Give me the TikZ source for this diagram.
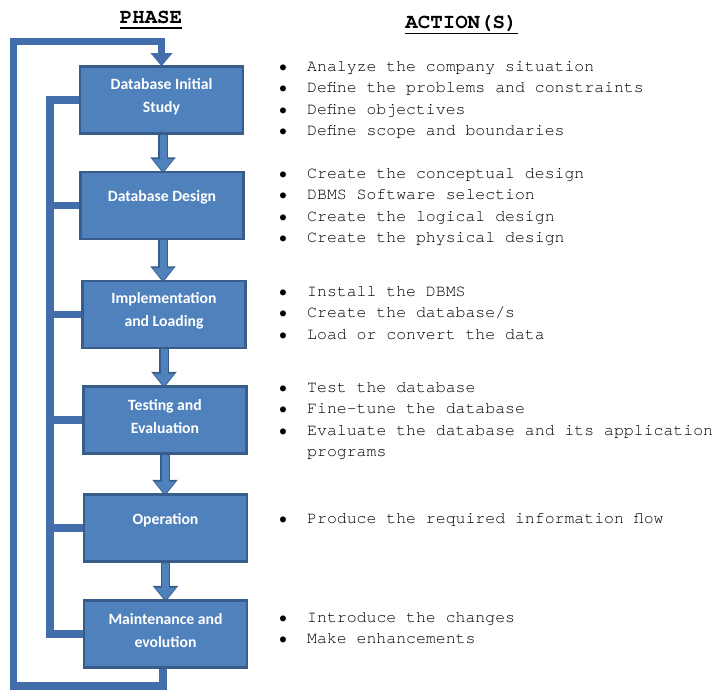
\documentclass[tikz,border=0pt]{standalone}
\usepackage{fontspec}
\setmainfont{Carlito}
\setmonofont{TeX Gyre Cursor}
\usetikzlibrary{arrows.meta}

\definecolor{boxfill}{RGB}{79,129,189}
\definecolor{boxedge}{RGB}{56,93,138}
\definecolor{linkblue}{RGB}{66,111,172}

\begin{document}
\begin{tikzpicture}[x=1pt,y=-1pt,
  phase/.style={rectangle, fill=boxfill, draw=boxedge, line width=1.6pt,
    minimum width=162pt, minimum height=66pt, inner sep=0pt},
  phasetext/.style={text=white, font=\fontsize{15.7}{23}\selectfont\bfseries,
    align=center, inner sep=0pt},
  flowarrow/.style={draw=boxfill, line width=7pt,
    -{Triangle[width=20pt,length=12.5pt]},
    preaction={draw=boxedge, line width=9.5pt, shorten >=-1.6pt,
      -{Triangle[width=24.5pt,length=16pt]}}},
  busline/.style={draw=linkblue, line width=7.5pt, line join=miter},
  header/.style={font=\fontsize{20.8}{24}\selectfont\ttfamily\bfseries,
    anchor=base, inner sep=0pt},
  headrule/.style={line width=1.8pt},
  act/.style={font=\fontsize{16.5}{21.3}\selectfont\ttfamily,
    anchor=base west, inner sep=0pt},
]
\useasboundingbox (0,0) rectangle (715,690);

% column headers
\node[header] (hphase) at (151,23.5) {PHASE};
\node[header] (hact) at (461.5,29) {ACTION(S)};
\draw[headrule] ([yshift=-4.5pt]hphase.base west) -- ([yshift=-4.5pt]hphase.base east);
\draw[headrule] ([yshift=-4.5pt]hact.base west) -- ([yshift=-4.5pt]hact.base east);

% phase box centres
\coordinate (c1) at (161.5,100);
\coordinate (c2) at (162,205.5);
\coordinate (c3) at (164,314.5);
\coordinate (c4) at (165,420);
\coordinate (c5) at (165.5,528);
\coordinate (c6) at (165.5,634);

% corners of the feedback lines on the left
\coordinate (busbot) at (50,634);
\coordinate (loopbot) at (13.5,686);
\coordinate (looptop) at (13.5,41.5);

\node[phase] (box1) at (c1) {};
\node[phase] (box2) at (c2) {};
\node[phase] (box3) at (c3) {};
\node[phase] (box4) at (c4) {};
\node[phase] (box5) at (c5) {};
\node[phase] (box6) at (c6) {};

% inner bus joining every phase
\draw[busline] (box1.west) -| (busbot) -- (box6.west);
\foreach \b in {box2,box3,box4,box5}
  \draw[busline] (\b.west) -- (\b.west -| busbot);

% outer loop back to the first phase
\draw[busline, -{Triangle[width=21pt,length=13pt]}]
  ([xshift=-2.5pt]box6.south) |- (loopbot) -- (looptop) -| (box1.north);

% flow between consecutive phases
\draw[flowarrow] ([xshift=1.5pt]box1.south) -- ([xshift=1.5pt]box1.south |- box2.north);
\draw[flowarrow] ([xshift=1pt]box2.south) -- ([xshift=1pt]box2.south |- box3.north);
\draw[flowarrow] (box3.south) -- (box3.south |- box4.north);
\draw[flowarrow] (box4.south) -- (box4.south |- box5.north);
\draw[flowarrow] (box5.south) -- (box5.south |- box6.north);

% redraw the box outlines over the arrow tips
\foreach \b in {box1,box2,box3,box4,box5,box6}
  \draw[boxedge, line width=1.6pt] (\b.north west) rectangle (\b.south east);

% phase labels
\node[phasetext] (t1) at ([yshift=3.5pt]c1) {Database Initial\\Study};
\node[phasetext] (t2) at ([yshift=8.5pt]c2) {Database Design};
\node[phasetext] (t3) at ([yshift=4pt]c3) {Implementation\\and Loading};
\node[phasetext] (t4) at ([yshift=3.5pt]c4) {Testing and\\Evaluation};
\node[phasetext] (t5) at ([yshift=8pt]c5) {Operation};
\node[phasetext] (t6) at ([yshift=3pt]c6) {Maintenance and\\evolution};

% actions
\newcommand{\bul}{\makebox[29pt][l]{\bfseries\textbullet}}
\node[act] (a11) at (278,71.5)  {\bul Analyze the company situation};
\node[act] (a12) at (278,92.8)  {\bul Define the problems and constraints};
\node[act] (a13) at (278,114.1) {\bul Define objectives};
\node[act] (a14) at (278,135.4) {\bul Define scope and boundaries};

\node[act] (a21) at (278,178.5) {\bul Create the conceptual design};
\node[act] (a22) at (278,199.8) {\bul DBMS Software selection};
\node[act] (a23) at (278,221.1) {\bul Create the logical design};
\node[act] (a24) at (278,242.4) {\bul Create the physical design};

\node[act] (a31) at (278,296.5) {\bul Install the DBMS};
\node[act] (a32) at (278,317.8) {\bul Create the database/s};
\node[act] (a33) at (278,339.1) {\bul Load or convert the data};

\node[act] (a41) at (278,392.5) {\bul Test the database};
\node[act] (a42) at (278,413.8) {\bul Fine-tune the database};
\node[act] (a43) at (278,435.1) {\bul Evaluate the database and its application};
\node[act] (a44) at (278,456.4) {\hspace*{29pt}programs};

\node[act] (a51) at (278,523.5) {\bul Produce the required information flow};

\node[act] (a61) at (278,622.5) {\bul Introduce the changes};
\node[act] (a62) at (278,643.8) {\bul Make enhancements};
\end{tikzpicture}
\end{document}
